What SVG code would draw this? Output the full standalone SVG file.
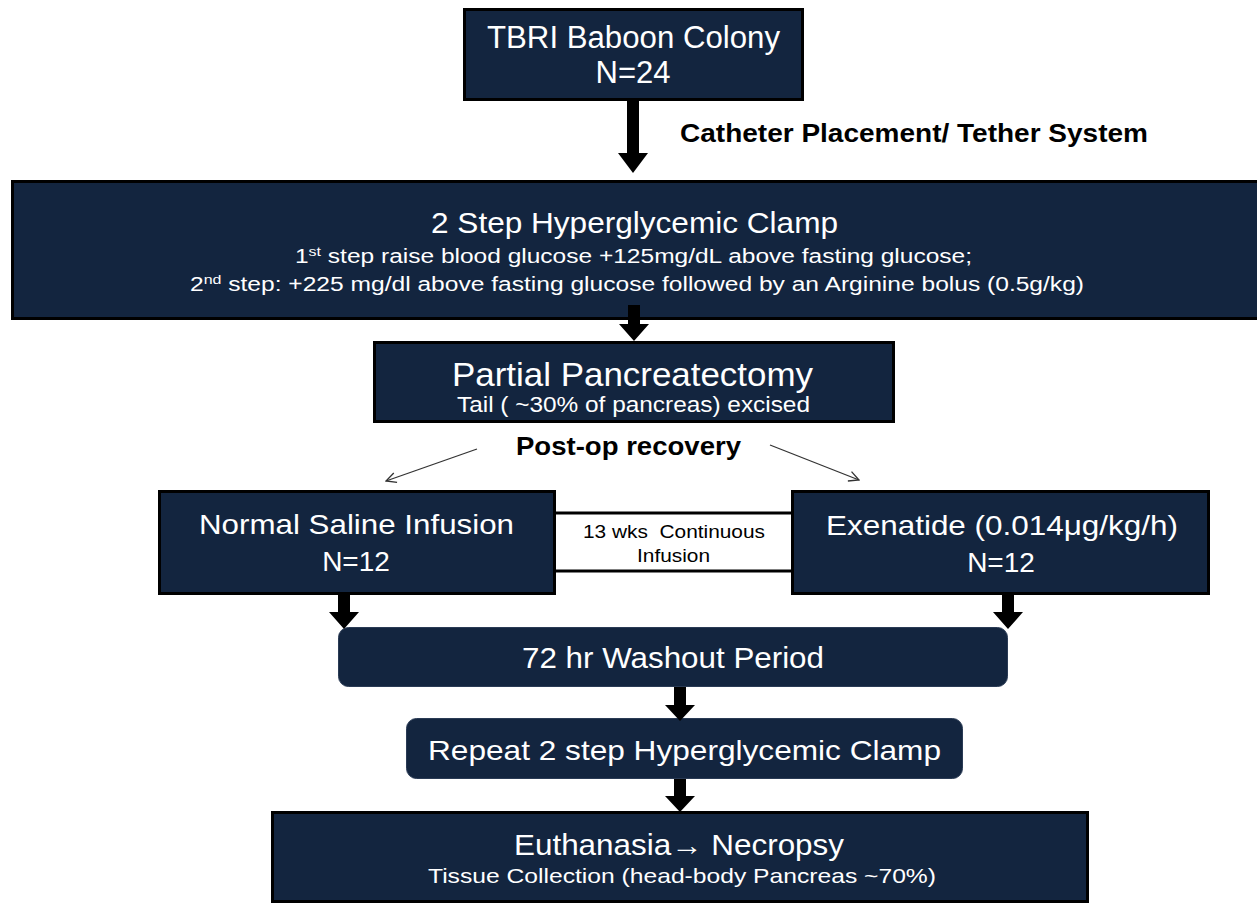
<svg xmlns="http://www.w3.org/2000/svg" width="1257" height="903" viewBox="0 0 1257 903">
<style>
.box{fill:#13253f;stroke:#000;stroke-width:3}
.rbox{fill:#13253f;stroke:#2a3b55;stroke-width:1}
.t{font-family:"Liberation Sans",Arial,sans-serif;fill:#fff}
.k{font-family:"Liberation Sans",Arial,sans-serif;fill:#000}
.b{font-weight:bold}
.arr{fill:#000}
.thin{stroke:#333;stroke-width:1.3;fill:none}
</style>
<defs>
<marker id="open" viewBox="0 0 12 12" refX="11" refY="6" markerWidth="12" markerHeight="12" markerUnits="userSpaceOnUse" orient="auto">
<path d="M1,1 L11,6 L1,11" fill="none" stroke="#333" stroke-width="1.3"/>
</marker>
</defs>
<rect width="1257" height="903" fill="#fff"/>

<g id="colony">
<rect class="box" x="464.5" y="9.5" width="338" height="90"/>
<text class="t" x="487" y="48" font-size="31" textLength="293" lengthAdjust="spacingAndGlyphs">TBRI Baboon Colony</text>
<text class="t" x="633" y="83" font-size="31" text-anchor="middle">N=24</text>
</g>

<g id="clamp">
<rect class="box" x="12.5" y="181.5" width="1250" height="137"/>
<text class="t" x="431" y="233" font-size="29" textLength="407" lengthAdjust="spacingAndGlyphs">2 Step Hyperglycemic Clamp</text>
<text class="t" x="295" y="263" font-size="20" textLength="677" lengthAdjust="spacingAndGlyphs">1<tspan font-size="13" dy="-7">st</tspan><tspan dy="7"> step raise blood glucose +125mg/dL above fasting glucose;</tspan></text>
<text class="t" x="190" y="291" font-size="20" textLength="894" lengthAdjust="spacingAndGlyphs">2<tspan font-size="13" dy="-7">nd</tspan><tspan dy="7"> step: +225 mg/dl above fasting glucose followed by an Arginine bolus (0.5g/kg)</tspan></text>
</g>

<g id="pancreatectomy">
<rect class="box" x="374.5" y="342.5" width="519" height="79"/>
<text class="t" x="452" y="386" font-size="34" textLength="361" lengthAdjust="spacingAndGlyphs">Partial Pancreatectomy</text>
<text class="t" x="457" y="412" font-size="22" textLength="353" lengthAdjust="spacingAndGlyphs">Tail ( ~30% of pancreas) excised</text>
</g>

<g id="saline">
<rect class="box" x="159.5" y="491.5" width="395" height="102"/>
<text class="t" x="199" y="534" font-size="28" textLength="315" lengthAdjust="spacingAndGlyphs">Normal Saline Infusion</text>
<text class="t" x="356" y="571" font-size="28" text-anchor="middle">N=12</text>
</g>

<g id="exenatide">
<rect class="box" x="792.5" y="491.5" width="416" height="102"/>
<text class="t" x="826" y="535" font-size="28" textLength="352" lengthAdjust="spacingAndGlyphs">Exenatide (0.014μg/kg/h)</text>
<text class="t" x="1001" y="572" font-size="28" text-anchor="middle">N=12</text>
</g>

<g id="infusion">
<line x1="556" y1="513" x2="791" y2="513" stroke="#000" stroke-width="3"/>
<line x1="556" y1="571" x2="791" y2="571" stroke="#000" stroke-width="3"/>
<text class="k" x="583" y="538" font-size="18" textLength="182" lengthAdjust="spacingAndGlyphs" style="white-space:pre">13 wks  Continuous</text>
<text class="k" x="637" y="562" font-size="18" textLength="73" lengthAdjust="spacingAndGlyphs">Infusion</text>
</g>

<g id="washout">
<rect class="rbox" x="338.5" y="627.5" width="669" height="59" rx="10"/>
<text class="t" x="522" y="668" font-size="29" textLength="302" lengthAdjust="spacingAndGlyphs">72 hr Washout Period</text>
</g>

<g id="repeat">
<rect class="rbox" x="406.5" y="718.5" width="556" height="60" rx="10"/>
<text class="t" x="428" y="760" font-size="28" textLength="513" lengthAdjust="spacingAndGlyphs">Repeat 2 step Hyperglycemic Clamp</text>
</g>

<g id="euthanasia">
<rect class="box" x="272.5" y="812.5" width="815" height="89"/>
<text class="t" x="514" y="855" font-size="29" textLength="330" lengthAdjust="spacingAndGlyphs">Euthanasia→ Necropsy</text>
<text class="t" x="428" y="883" font-size="21" textLength="508" lengthAdjust="spacingAndGlyphs">Tissue Collection (head-body Pancreas ~70%)</text>
</g>

<g id="labels">
<text class="k b" x="680" y="142" font-size="25" textLength="468" lengthAdjust="spacingAndGlyphs">Catheter Placement/ Tether System</text>
<text class="k b" x="516" y="455" font-size="25" textLength="225" lengthAdjust="spacingAndGlyphs">Post-op recovery</text>
</g>

<g id="connectors">
<path class="arr" d="M627,101 H639 V153 H648 L633,173 L618,153 H627 Z"/>
<path class="arr" d="M628,305 H640 V324 H649 L634,341 L619,324 H628 Z"/>
<path class="arr" d="M338,595 H350 V612 H359 L344,629 L329,612 H338 Z"/>
<path class="arr" d="M1002,595 H1014 V612 H1023 L1008,629 L993,612 H1002 Z"/>
<path class="arr" d="M674,687 H686 V705 H695 L680,721 L665,705 H674 Z"/>
<path class="arr" d="M674,779 H686 V796 H695 L680,812 L665,796 H674 Z"/>
<line class="thin" x1="477" y1="449" x2="386" y2="481" marker-end="url(#open)"/>
<line class="thin" x1="770" y1="445" x2="859" y2="480" marker-end="url(#open)"/>
</g>
</svg>
